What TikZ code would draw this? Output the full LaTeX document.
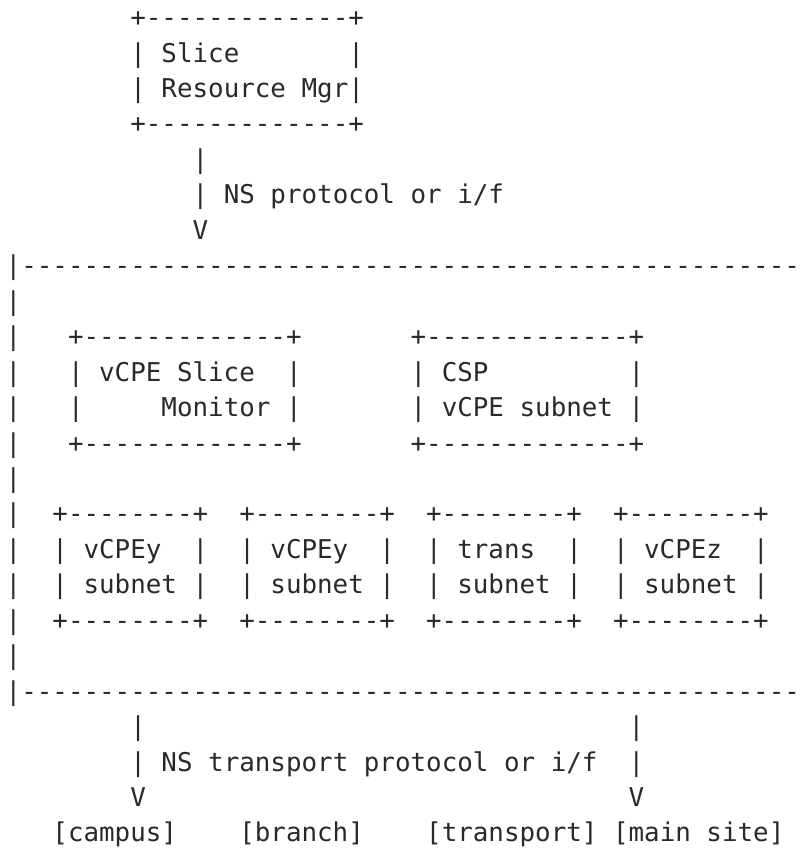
\documentclass[tikz,border=0pt]{standalone}
\usepackage{fontspec}
\setmonofont{DejaVu Sans Mono}
\definecolor{ink}{rgb}{0.16,0.16,0.16}
\tikzset{
  asciitxt/.style={anchor=base west, inner sep=0pt, outer sep=0pt, text=ink,
    font=\ttfamily\fontsize{19.4pt}{19.4pt}\selectfont}
}
\newcommand\asciirow[4]{\node[asciitxt] (#1) at ({4.3pt+#3*11.68pt},{-(26.6+35.45*#2)*0.75pt}) {#4};}
\begin{document}
\begin{tikzpicture}
\useasboundingbox (0,0) rectangle (601.5pt,-641.25pt);
\asciirow{r0}{0}{8}{+-------------+}
\asciirow{r1}{1}{8}{|~Slice~~~~~~~|}
\asciirow{r2}{2}{8}{|~Resource~Mgr|}
\asciirow{r3}{3}{8}{+-------------+}
\asciirow{r4}{4}{12}{|}
\asciirow{r5}{5}{12}{|~NS~protocol~or~i/f}
\asciirow{r6}{6}{12}{V}
\asciirow{r7}{7}{0}{|--------------------------------------------------}
\asciirow{r8}{8}{0}{|}
\asciirow{r9}{9}{0}{|~~~+-------------+~~~~~~~+-------------+}
\asciirow{r10}{10}{0}{|~~~|~vCPE~Slice~~|~~~~~~~|~CSP~~~~~~~~~|}
\asciirow{r11}{11}{0}{|~~~|~~~~~Monitor~|~~~~~~~|~vCPE~subnet~|}
\asciirow{r12}{12}{0}{|~~~+-------------+~~~~~~~+-------------+}
\asciirow{r13}{13}{0}{|}
\asciirow{r14}{14}{0}{|~~+--------+~~+--------+~~+--------+~~+--------+}
\asciirow{r15}{15}{0}{|~~|~vCPEy~~|~~|~vCPEy~~|~~|~trans~~|~~|~vCPEz~~|}
\asciirow{r16}{16}{0}{|~~|~subnet~|~~|~subnet~|~~|~subnet~|~~|~subnet~|}
\asciirow{r17}{17}{0}{|~~+--------+~~+--------+~~+--------+~~+--------+}
\asciirow{r18}{18}{0}{|}
\asciirow{r19}{19}{0}{|--------------------------------------------------}
\asciirow{r20}{20}{8}{|~~~~~~~~~~~~~~~~~~~~~~~~~~~~~~~|}
\asciirow{r21}{21}{8}{|~NS~transport~protocol~or~i/f~~|}
\asciirow{r22}{22}{8}{V~~~~~~~~~~~~~~~~~~~~~~~~~~~~~~~V}
\asciirow{r23}{23}{3}{[campus]~~~~[branch]~~~~[transport]~[main~site]}
\end{tikzpicture}
\end{document}
